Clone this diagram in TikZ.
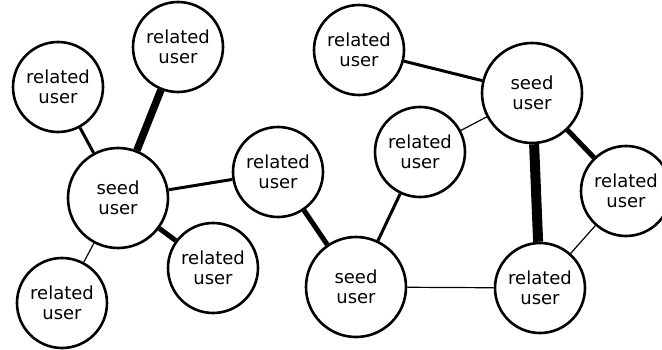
\documentclass[tikz,border=0pt]{standalone}
\usepackage{fontspec}
\setmainfont{DejaVu Sans}
\begin{document}
\begin{tikzpicture}[x=1pt,y=-1pt,
  user/.style={circle,draw,line width=2.6pt,fill=white,inner sep=0pt,align=center,
    font=\fontsize{18}{20}\selectfont},
  rel/.style={user,minimum size=90pt},
  seed/.style={user,minimum size=100pt},
  wthin/.style={line width=1.2pt},
  wmed/.style={line width=3pt},
  wthick/.style={line width=5pt},
  wheavy/.style={line width=7.5pt},
  wmax/.style={line width=10pt}]
\useasboundingbox (0,0) rectangle (662,350);
\node[rel]  (r1) at (58,87)   {related\\user};
\node[rel]  (r2) at (178,47)  {related\\user};
\node[seed] (s1) at (118,198) {seed\\user};
\node[rel]  (r3) at (62,303)  {related\\user};
\node[rel]  (r4) at (213,268) {related\\user};
\node[rel]  (r5) at (278,172) {related\\user};
\node[rel]  (r6) at (359,50)  {related\\user};
\node[seed] (s2) at (532,93)  {seed\\user};
\node[rel]  (r7) at (420,152) {related\\user};
\node[seed] (s3) at (356,287) {seed\\user};
\node[rel]  (r8) at (540,288) {related\\user};
\node[rel]  (r9) at (626,191) {related\\user};
\draw[wmed]   (r1) -- (s1);
\draw[wheavy] (r2) -- (s1);
\draw[wthin]  (s1) -- (r3);
\draw[wthick] (s1) -- (r4);
\draw[wmed]   (s1) -- (r5);
\draw[wthick] (r5) -- (s3);
\draw[wmed]   (r7) -- (s3);
\draw[wmed]   (r6) -- (s2);
\draw[wthin]  (r7) -- (s2);
\draw[wmax]   (s2) -- (r8);
\draw[wthick] (s2) -- (r9);
\draw[wthin]  (r9) -- (r8);
\draw[wthin]  (s3) -- (r8);
\end{tikzpicture}
\end{document}
